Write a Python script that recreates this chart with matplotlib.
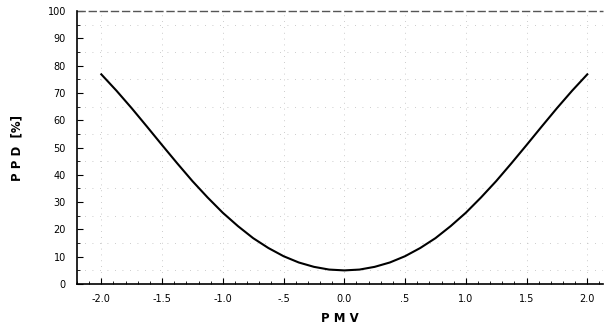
import matplotlib
matplotlib.use("Agg")
import matplotlib.pyplot as plt
from matplotlib.ticker import MultipleLocator, FixedLocator

# Data
pmv = [-2.0, -1.875, -1.75, -1.625, -1.5, -1.375, -1.25, -1.125, -1.0,
       -0.875, -0.75, -0.625, -0.5, -0.375, -0.25, -0.125, 0.0,
       0.125, 0.25, 0.375, 0.5, 0.625, 0.75, 0.875, 1.0,
       1.125, 1.25, 1.375, 1.5, 1.625, 1.75, 1.875, 2.0]
ppd = [76.8, 70.8, 64.4, 57.7, 50.9, 44.2, 37.7, 31.7, 26.1,
       21.2, 16.8, 13.2, 10.2, 7.9, 6.3, 5.3, 5.0,
       5.3, 6.3, 7.9, 10.2, 13.2, 16.8, 21.2, 26.1,
       31.7, 37.7, 44.2, 50.9, 57.7, 64.4, 70.8, 76.8]

x_ticks = [-2.0, -1.5, -1.0, -0.5, 0.0, 0.5, 1.0, 1.5, 2.0]
x_tick_labels = ["-2.0", "-1.5", "-1.0", "-.5", "0.0", ".5", "1.0", "1.5", "2.0"]
y_ticks = [0, 10, 20, 30, 40, 50, 60, 70, 80, 90, 100]
y_tick_labels = ["0", "10", "20", "30", "40", "50", "60", "70", "80", "90", "100"]

fig = plt.figure(figsize=(6.04, 3.28), dpi=100)
ax = fig.add_axes([0.1275, 0.134, 0.871, 0.8325])

ax.plot(pmv, ppd, color="black", lw=1.5, zorder=3)

ax.set_xlim(-2.2, 2.13)
ax.set_ylim(0, 100)

ax.xaxis.set_major_locator(FixedLocator(x_ticks))
ax.set_xticklabels(x_tick_labels)
ax.xaxis.set_minor_locator(MultipleLocator(0.1))
ax.yaxis.set_major_locator(FixedLocator(y_ticks))
ax.set_yticklabels(y_tick_labels)
ax.yaxis.set_minor_locator(MultipleLocator(5))

ax.tick_params(axis="both", which="major", direction="in", length=4, width=0.8,
               labelsize=7, pad=8, colors="black")
ax.tick_params(axis="x", which="major", pad=7)
ax.tick_params(axis="both", which="minor", direction="in", length=2, width=0.6)

# faint dotted grid
ax.grid(True, which="major", axis="x", color="#bbbbbb", lw=0.6, ls=(0, (1, 6)))
ax.grid(True, which="minor", axis="y", color="#bbbbbb", lw=0.6, ls=(0, (1, 8)))

ax.spines["right"].set_visible(False)
ax.spines["top"].set_visible(False)
ax.spines["left"].set_linewidth(1.2)
ax.spines["bottom"].set_linewidth(1.2)
ax.axhline(100, color="#555555", lw=1.0, ls=(0, (6, 2)), clip_on=False)

ax.set_xlabel("P M V", fontsize=8.5, fontweight="bold", labelpad=6)
ax.set_ylabel("P P D  [%]", fontsize=8.5, fontweight="bold", labelpad=17)

fig.savefig("out.png", dpi=100)
